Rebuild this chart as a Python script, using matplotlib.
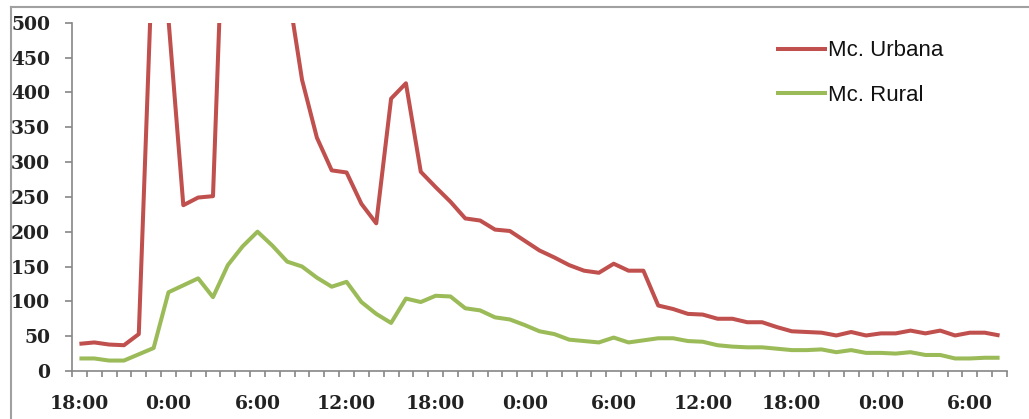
import matplotlib
matplotlib.use("Agg")
import matplotlib.pyplot as plt
from matplotlib.lines import Line2D
import numpy as np

# Hourly readings, starting at 18:00 on day one and ending at 8:00 on day four
urbana = [39, 41, 38, 37, 53, 640, 505, 238, 249, 251, 840, 1100, 1050, 800, 555,
          418, 335, 288, 285, 240, 212, 391, 413, 286, 264, 243, 219, 216, 203, 201,
          187, 173, 163, 152, 144, 141, 154, 144, 144, 94, 89, 82, 81, 75, 75, 70,
          70, 63, 57, 56, 55, 51, 56, 51, 54, 54, 58, 54, 58, 51, 55, 55, 51]
rural = [18, 18, 15, 15, 24, 33, 113, 123, 133, 106, 152, 179, 200, 180, 157, 150,
         134, 121, 128, 99, 82, 69, 104, 99, 108, 107, 90, 87, 77, 74, 66, 57, 53,
         45, 43, 41, 48, 41, 44, 47, 47, 43, 42, 37, 35, 34, 34, 32, 30, 30, 31, 27,
         30, 26, 26, 25, 27, 23, 23, 18, 18, 19, 19]
series_names = ["Mc. Urbana", "Mc. Rural"]
tick_labels = ["18:00", "0:00", "6:00", "12:00", "18:00", "0:00", "6:00",
               "12:00", "18:00", "0:00", "6:00"]
label_step = 6  # one label every six hours

W, H = 1029, 419
fig = plt.figure(figsize=(W / 100, H / 100), dpi=100)
fig.patch.set_facecolor("white")

# outer chart frame (top and left edges visible)
frame_col = "#a0a0a0"
fig.add_artist(Line2D([11 / W, 1.0], [1 - 7.5 / H, 1 - 7.5 / H], color=frame_col,
                      lw=1.5, transform=fig.transFigure))
fig.add_artist(Line2D([11 / W, 11 / W], [0, 1 - 7.5 / H], color=frame_col,
                      lw=1.5, transform=fig.transFigure))

left, right, top, bottom = 72, 1007, 22.7, 371
ax = fig.add_axes([left / W, 1 - bottom / H, (right - left) / W, (bottom - top) / H])

x = np.arange(len(urbana))
red, green = "#c0504d", "#9bbb59"
ax.plot(x, urbana, color=red, lw=2.9, solid_joinstyle="round",
        solid_capstyle="butt", label=series_names[0])
ax.plot(x, rural, color=green, lw=2.9, solid_joinstyle="round",
        solid_capstyle="butt", label=series_names[1])

ax.set_xlim(-0.5, len(urbana) - 0.5)
ax.set_ylim(0, 500)

axis_col = "#868686"
for side in ("top", "right"):
    ax.spines[side].set_visible(False)
for side in ("left", "bottom"):
    ax.spines[side].set_color(axis_col)
    ax.spines[side].set_linewidth(1.2)

serif = {"family": ["DejaVu Serif", "Liberation Serif"], "size": 13.5,
         "weight": "bold"}

ax.set_yticks(np.arange(0, 501, 50))
ax.set_yticklabels([str(v) for v in range(0, 501, 50)], fontdict=serif,
                   color="#222222")
ax.tick_params(axis="y", direction="out", length=5, width=1.2, color=axis_col,
               pad=10.8)

# boundary ticks every hour, labels centred on categories
ax.set_xticks(np.arange(-0.5, len(urbana) + 0.5, 1.0))
ax.set_xticklabels([])
ax.tick_params(axis="x", which="major", direction="out", length=4.3, width=1.2,
               color=axis_col)
label_pos = np.arange(len(tick_labels)) * label_step
ax.set_xticks(label_pos, minor=True)
ax.set_xticklabels(tick_labels, minor=True, fontdict=serif, color="#222222")
ax.tick_params(axis="x", which="minor", length=0, pad=17)

leg = ax.legend(loc="upper left", bbox_to_anchor=((767 - left) / (right - left), 0.975),
                frameon=False, prop={"family": "Liberation Sans", "size": 16},
                handlelength=2.3, handletextpad=0.05, labelspacing=1.05,
                borderaxespad=0)
for t in leg.get_texts():
    t.set_color("#111111")

fig.savefig("out.png", dpi=100, facecolor="white")
